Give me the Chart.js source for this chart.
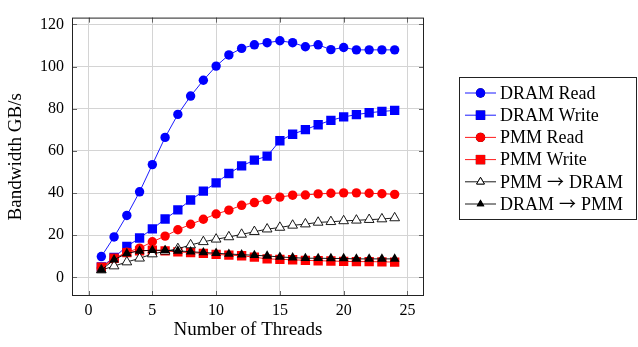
<!DOCTYPE html>
<html>
<head>
<meta charset="utf-8">
<script src="https://cdn.jsdelivr.net/npm/chart.js@4"></script>
<style>
  body { margin: 0; background: #fff; }
</style>
</head>
<body>
<canvas id="myChart1" width="638" height="347"></canvas>
<script>
// data
var threads = [1, 2, 3, 4, 5, 6, 7, 8, 9, 10, 11, 12, 13, 14, 15, 16, 17, 18, 19, 20, 21, 22, 23, 24];
var dramRead = [9.9, 19.2, 29.4, 40.6, 53.5, 66.4, 77.3, 86, 93.5, 100.2, 105.5, 108.6, 110.3, 111.3, 112.2, 111.3, 109.4, 110.3, 108, 109, 107.9, 107.9, 107.9, 107.9];
var dramWrite = [5, 9.5, 14.7, 18.7, 23, 27.7, 32, 36.7, 40.9, 44.8, 49.3, 52.9, 55.6, 57.5, 64.8, 67.9, 70.1, 72.4, 74.5, 76.1, 77.2, 78.1, 78.7, 79.2];
var pmmRead = [4.5, 8.5, 12, 13.9, 16.9, 19.6, 22.6, 25.2, 27.6, 30.1, 31.9, 34.2, 35.5, 36.9, 38.1, 39, 39.1, 39.6, 39.9, 40.1, 40.1, 39.9, 39.7, 39.4];
var pmmWrite = [4.9, 9.1, 11.8, 12.6, 12.9, 12.6, 12.1, 11.8, 11.4, 10.9, 10.6, 10.3, 9.6, 8.8, 8.6, 8.4, 8.1, 7.9, 7.8, 7.6, 7.5, 7.5, 7.4, 7.3];
var pmmToDram = [3.5, 5.4, 7.3, 9.1, 11.1, 12.4, 13.6, 15.4, 16.9, 18.1, 19.2, 20.4, 21.7, 22.9, 23.7, 24.7, 25.3, 26.1, 26.4, 26.8, 27.1, 27.4, 27.7, 28.2];
var dramToPmm = [3.5, 8.4, 11.4, 12.6, 12.9, 12.9, 12.6, 12.2, 11.8, 11.5, 11.1, 10.8, 10.5, 10.2, 9.7, 9.4, 9.1, 9.1, 9.0, 9.0, 8.8, 8.8, 8.8, 8.8];
var xTicks = [0, 5, 10, 15, 20, 25];
var yTicks = [0, 20, 40, 60, 80, 100, 120];

var seriesNames = ['DRAM Read', 'DRAM Write', 'PMM Read', 'PMM Write', 'PMM \u2192 DRAM', 'DRAM \u2192 PMM'];
var seriesData = [dramRead, dramWrite, pmmRead, pmmWrite, pmmToDram, dramToPmm];
var lineColors = ['#0000ff', '#0000ff', '#ff0000', '#ff0000', '#000000', '#000000'];
var fillColors = ['#0000ff', '#0000ff', '#ff0000', '#ff0000', '#ffffff', '#000000'];
var markers = ['circle', 'rect', 'circle', 'rect', 'triangle', 'triangle'];
var markerSize = [4.7, 6.6, 4.7, 6.6, 5.6, 5.6];

var serif = "'Liberation Serif', 'DejaVu Serif', serif";

var datasets = [];
for (var n = 0; n < seriesData.length; n++) {
    datasets.push({
        label: seriesNames[n],
        data: threads.map(function (t, i) { return { x: t, y: seriesData[n][i] }; }),
        borderColor: lineColors[n],
        backgroundColor: fillColors[n],
        borderWidth: 0.9,
        pointStyle: markers[n],
        pointRadius: markerSize[n],
        pointBorderColor: lineColors[n],
        pointBackgroundColor: fillColors[n],
        pointBorderWidth: n == 4 ? 0.9 : 0,
        order: seriesData.length - n
    });
}

// box, tick stubs and the legend
var decorPlugin = {
    id: 'decor',
    afterDraw: function (chart) {
        var ctx = chart.ctx;
        var a = chart.chartArea;
        var xs = chart.scales.x, ys = chart.scales.y;
        ctx.save();
        ctx.strokeStyle = '#666';
        ctx.lineWidth = 1;
        ctx.beginPath();
        xTicks.forEach(function (v) {
            var px = Math.round(xs.getPixelForValue(v)) + 0.5;
            ctx.moveTo(px, a.bottom); ctx.lineTo(px, a.bottom - 5);
            ctx.moveTo(px, a.top); ctx.lineTo(px, a.top + 5);
        });
        yTicks.forEach(function (v) {
            var py = Math.round(ys.getPixelForValue(v)) + 0.5;
            ctx.moveTo(a.left, py); ctx.lineTo(a.left + 5, py);
            ctx.moveTo(a.right, py); ctx.lineTo(a.right - 5, py);
        });
        ctx.stroke();
        ctx.strokeStyle = '#222';
        ctx.strokeRect(a.left + 0.5, a.top + 0.5, a.right - a.left - 1, a.bottom - a.top - 1);

        // legend
        ctx.strokeStyle = '#222';
        ctx.strokeRect(459.5, 77.5, 177, 142);
        ctx.textBaseline = 'middle';
        ctx.textAlign = 'left';
        for (var i = 0; i < seriesNames.length; i++) {
            var y = 93 + i * 22.2;
            ctx.strokeStyle = lineColors[i];
            ctx.lineWidth = 0.9;
            ctx.beginPath();
            ctx.moveTo(465, y); ctx.lineTo(496, y);
            ctx.stroke();
            var s = markers[i] == 'triangle' ? 0.8 : 1;
            Chart.helpers.drawPoint(ctx, {
                pointStyle: markers[i],
                radius: markerSize[i] * s,
                borderWidth: i == 4 ? 0.9 : 0
            }, 480.5, y);
            ctx.fillStyle = fillColors[i];
            ctx.strokeStyle = lineColors[i];
            ctx.fill();
            if (i == 4) ctx.stroke();
            // the arrow glyph comes from a font with a long thin arrow
            ctx.fillStyle = '#000';
            var parts = seriesNames[i].split(' \u2192 ');
            var tx = 500;
            for (var p = 0; p < parts.length; p++) {
                ctx.font = '18px ' + serif;
                ctx.fillText(parts[p], tx, y + 1);
                tx += ctx.measureText(parts[p]).width;
                if (p < parts.length - 1) {
                    ctx.font = "17px 'Noto Sans CJK JP'";
                    ctx.fillText('\u2192', tx + 5, y);
                    tx += ctx.measureText('\u2192').width + 10;
                }
            }
        }
        ctx.restore();
    }
};

var ctx = document.getElementById('myChart1').getContext('2d');
var thisChart = new Chart(ctx, {
    type: 'line',
    data: { datasets: datasets },
    options: {
        responsive: false,
        animation: false,
        layout: { padding: { top: 3, right: 214, left: 0, bottom: 0 } },
        plugins: { legend: { display: false }, tooltip: { enabled: false } },
        scales: {
            x: {
                type: 'linear',
                min: -1.3,
                max: 26.3,
                afterBuildTicks: function (s) { s.ticks = xTicks.map(function (v) { return { value: v }; }); },
                afterFit: function (s) { s.height = 51; },
                grid: { color: '#d4d4d4', lineWidth: 1, drawTicks: false },
                border: { display: false },
                ticks: { color: '#000', padding: 5, font: { family: serif, size: 16 } },
                title: { display: true, text: 'Number of Threads', color: '#000', padding: { top: 0, bottom: 6 }, font: { family: serif, size: 19 } }
            },
            y: {
                type: 'linear',
                min: -8.8,
                max: 123.2,
                afterBuildTicks: function (s) { s.ticks = yTicks.map(function (v) { return { value: v }; }); },
                afterFit: function (s) { s.width = 72; },
                grid: { color: '#d4d4d4', lineWidth: 1, drawTicks: false },
                border: { display: false },
                ticks: { color: '#000', padding: 8, font: { family: serif, size: 16 } },
                title: { display: true, text: 'Bandwidth GB/s', color: '#000', padding: { top: 5, bottom: 0 }, font: { family: serif, size: 19 } }
            }
        }
    },
    plugins: [decorPlugin]
});
</script>
</body>
</html>
